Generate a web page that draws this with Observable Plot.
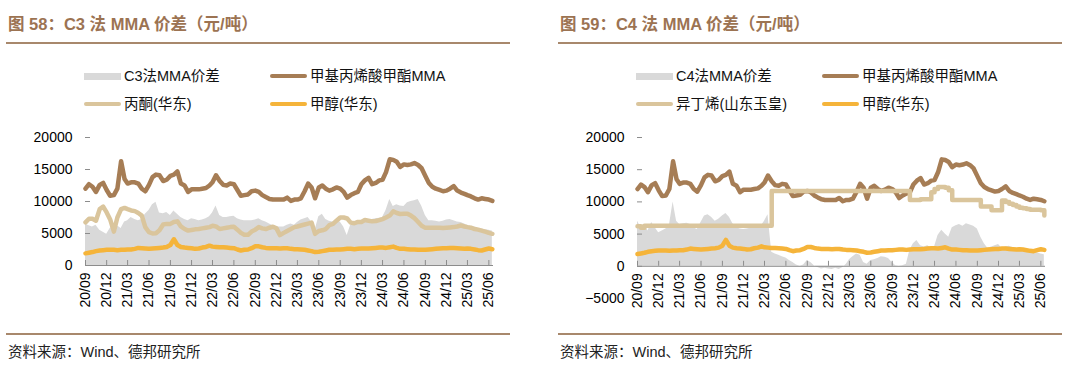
<!DOCTYPE html>
<html>
<head>
<meta charset="utf-8">
<script src="https://cdn.jsdelivr.net/npm/d3@7"></script>
<script src="https://cdn.jsdelivr.net/npm/@observablehq/plot@0.6"></script>
<style>
  body { margin: 0; background: #fff; }
  #page { position: relative; width: 1080px; height: 379px; overflow: hidden; background: #fff;
          font-family: "Liberation Sans", "Noto Sans CJK SC", sans-serif; }
  .title { position: absolute; top: 13px; font-size: 16.5px; font-weight: bold; color: #9C7352; white-space: nowrap; line-height: 22px; }
  .rule { position: absolute; height: 2px; background: #A8886C; }
  .foot { position: absolute; top: 342px; font-size: 14.5px; color: #222; white-space: nowrap; line-height: 20px; }
  .legtext { position: absolute; font-size: 14.5px; color: #111; white-space: nowrap; line-height: 18px; }
  .sw { position: absolute; }
  .plot { position: absolute; top: 125px; }
</style>
</head>
<body>
<div id="page"></div>
<script>
// ---------------- data ----------------
// semi-monthly observations from 2020-09-01 (index i -> month offset i/2)
const startLabel = "2020-09-01";
const tickLabels = ["20/09","20/12","21/03","21/06","21/09","21/12","22/03","22/06","22/09","22/12",
                    "23/03","23/06","23/09","23/12","24/03","24/06","24/09","24/12","25/03","25/06"];
const yTicksLeft = [0, 5000, 10000, 15000, 20000];
const yTicksRight = [-5000, 0, 5000, 10000, 15000, 20000];

const mma = [
  12000,12700,12300,11500,12600,12900,11800,10900,11000,12000,16300,13500,
  12800,13000,13000,12800,12000,11600,12600,13800,14200,14100,13200,13400,
  14000,14200,14700,12800,12500,11500,11900,11900,11900,12000,12100,12500,
  13000,14100,13200,12600,12500,12800,12700,11800,10900,11000,11100,11600,
  11700,11500,11000,10700,10400,10300,10300,10300,10300,10600,10100,10300,
  10300,10500,11600,12800,12200,10500,12200,12500,12000,11700,11900,12200,
  12000,11500,10600,11000,11300,11500,12700,13300,13700,12700,12900,13300,
  13400,14600,16600,16500,16200,15400,15800,15700,15800,16000,15700,15200,
  14000,12900,12300,12000,11800,11600,11700,12000,12400,11700,11400,11200,
  11000,10800,10500,10300,10500,10400,10300,10100
];
const methanol = [
  1900,2000,2100,2250,2350,2400,2450,2450,2450,2400,2450,2450,
  2500,2500,2600,2750,2700,2650,2600,2650,2700,2750,2800,2900,
  3200,4100,3200,2900,2800,2750,2700,2600,2650,2800,2900,3100,
  2950,2900,2850,2850,2800,2750,2700,2500,2350,2450,2500,2700,
  3000,3000,2850,2750,2700,2700,2700,2650,2700,2700,2600,2550,
  2550,2500,2450,2350,2250,2100,2150,2250,2350,2450,2450,2500,
  2500,2550,2600,2600,2550,2600,2650,2650,2650,2700,2750,2800,
  2800,2750,2850,2950,2750,2600,2600,2550,2500,2500,2450,2450,
  2450,2500,2550,2600,2650,2700,2700,2750,2750,2700,2650,2600,
  2650,2600,2500,2400,2350,2500,2650,2550
];
const acetone = [
  6750,7300,7300,7000,8800,9200,8300,7200,5300,7500,8800,9000,
  8800,8600,8500,8200,7800,6000,5200,5000,5050,5500,6400,6500,
  6500,6800,6900,6100,5700,5450,5550,5650,5700,5800,5900,6000,
  6200,6100,5700,5800,5900,6000,6050,5600,5100,4800,4800,5300,
  5600,6000,5800,5700,5900,6050,5800,4750,5100,5400,5700,6000,
  6100,6250,6400,6550,6700,4950,5400,5500,5700,6300,6500,7000,
  7500,7500,7350,6700,6600,6800,6800,7100,7000,6900,6950,7100,
  7250,7500,7800,8450,8200,8050,8100,8100,7800,7400,6800,6200,
  5880,5880,5900,5880,5900,5850,5900,5950,6000,6100,6250,6100,
  6000,5900,5700,5600,5450,5300,5100,4950
];
const spreadC3 = [
  6500,6200,6000,6300,5500,5200,4900,5800,6500,6200,5800,6800,
  7000,7500,7200,7000,7200,8000,8600,9500,9900,8200,8100,8300,
  7800,8500,8000,7500,7200,7000,7300,7200,7000,7100,7300,7600,
  8200,9300,7800,7500,7500,7600,7700,7300,7100,7000,7000,7000,
  7100,7300,7000,6800,6500,6200,6000,6000,6000,6300,6500,6300,
  6700,7100,7300,7500,6800,5500,7600,8000,7200,6900,6800,6700,
  6800,6000,4700,6300,6600,6800,6900,7000,7100,7200,7300,7400,
  7500,8600,10300,9200,9500,9300,9200,9800,10000,10100,10300,9300,
  7800,7000,7000,6900,6800,6900,7100,7200,7000,6800,6700,6500,
  6300,6100,6000,5800,5700,5600,5500,5400
];
const isobutylene = [
  6200,6000,6300,6300,6300,6300,6300,6300,6300,6300,6300,6300,
  6300,6300,6300,6300,6300,6300,6300,6300,6300,6300,6300,6300,
  6300,6300,6300,6300,6300,6300,6300,6300,6300,6300,6300,6300,
  6300,6300,11700,11700,11700,11700,11700,11700,11700,11700,11700,11700,
  11700,11700,11700,11700,11700,11700,11700,11700,11700,11700,11700,11700,
  11700,11700,11700,11700,11700,11700,11700,11700,11700,11700,11700,11700,
  11700,11700,11700,11700,11700,10300,10300,10300,10400,10400,10400,11500,
  12000,12300,12300,12200,11800,10300,10300,10300,10300,10300,10300,10300,
  10300,9300,9300,9300,8700,8700,8700,10200,10000,9700,9500,9300,
  9100,9000,8900,8800,8800,8800,8700,7900
];
const spreadC4 = [
  7000,6000,6500,5500,6800,6000,5200,5500,5800,6300,10000,7000,
  6500,6600,6700,6500,6000,5700,6800,7800,8000,7600,7000,7300,
  7800,8200,7600,6600,6000,5800,5700,5800,5900,5900,6100,6300,
  7000,8000,2200,1900,1700,1500,1300,900,600,200,0,200,
  900,600,100,-200,-400,-300,-400,-500,-300,-500,-200,300,
  1000,1500,1900,1700,600,300,900,1000,1200,1500,1400,1200,
  600,100,0,100,300,2500,3500,4000,3200,3000,3200,2800,
  3000,4800,5600,5000,4500,6000,6300,6500,6200,6600,6400,6200,
  5800,4500,3500,2800,3000,3200,3400,2800,3000,3100,2900,2800,
  2600,2500,2400,2200,2000,2100,1900,1800
];

const colors = { spread: "#D9D9D9", mma: "#A67D55", feed: "#DAC59C", methanol: "#F5B43A" };

// ---------------- derived helpers ----------------
const start = new Date(startLabel + "T00:00:00Z");
const dates = mma.map((_, i) => new Date(Date.UTC(start.getUTCFullYear(), start.getUTCMonth() + Math.floor(i / 2), i % 2 ? 16 : 1)));
const parseTick = d3.utcParse("%y/%m");
const xTicks = tickLabels.map(parseTick);
const xDomain = [start, new Date(Date.UTC(2025, 5, 21))];

const page = document.getElementById("page");
function add(tag, cls, style, text) {
  const el = document.createElement(tag);
  if (cls) el.className = cls;
  Object.assign(el.style, style);
  if (text != null) el.textContent = text;
  page.appendChild(el);
  return el;
}

function panel(cfg) {
  const off = cfg.offset;
  add("div", "title", { left: (off + 8) + "px" }, cfg.title);
  add("div", "rule", { left: (off + 6) + "px", width: "504px", top: "42px" });
  add("div", "rule", { left: (off + 6) + "px", width: "504px", top: "333px" });
  add("div", "foot", { left: (off + 8) + "px" }, "资料来源：Wind、德邦研究所");

  // legend
  const items = [
    { label: cfg.spreadLabel, color: colors.spread, kind: "area", col: 0, row: 0 },
    { label: "甲基丙烯酸甲酯MMA", color: colors.mma, kind: "line", col: 1, row: 0 },
    { label: cfg.feedLabel, color: colors.feed, kind: "line", col: 0, row: 1 },
    { label: "甲醇(华东)", color: colors.methanol, kind: "line", col: 1, row: 1 }
  ];
  items.forEach(it => {
    const sx = off + (it.col ? 270 : 84);
    const cy = it.row ? 104 : 76;
    const h = it.kind === "area" ? 7 : 4;
    add("div", "sw", { left: sx + "px", top: (cy - h / 2) + "px", width: "37px", height: h + "px",
      background: it.color, borderRadius: it.kind === "area" ? "0" : "2px" });
    add("div", "legtext", { left: (sx + 40) + "px", top: (cy - 9) + "px" }, it.label);
  });

  const H = 200, top = 125;
  const mt = 137 - top;
  const mb = H - (cfg.yBottom - top);
  const innerH = H - mt - mb;
  const shift = (0 - cfg.yMin) / (20000 - cfg.yMin) * innerH;
  const rows = dates.map((d, i) => ({ date: d, spread: cfg.spread[i], mma: mma[i], feed: cfg.feed[i], methanol: methanol[i] }));
  const chart = Plot.plot({
    width: cfg.width, height: H,
    marginLeft: 85, marginRight: cfg.width - 493, marginTop: mt, marginBottom: mb,
    style: { fontFamily: "'Liberation Sans', Arial, sans-serif", fontSize: "14px", color: "#000", background: "transparent", overflow: "visible" },
    x: { type: "utc", domain: xDomain },
    y: { domain: [cfg.yMin, 20000] },
    marks: [
      Plot.areaY(rows, { x: "date", y: "spread", fill: colors.spread }),
      Plot.ruleY([0], { stroke: "#8c8c8c" }),
      Plot.lineY(rows, { x: "date", y: "mma", stroke: colors.mma, strokeWidth: 4.5 }),
      Plot.lineY(rows, { x: "date", y: "feed", stroke: colors.feed, strokeWidth: 4.5, curve: cfg.curve }),
      Plot.lineY(rows, { x: "date", y: "methanol", stroke: colors.methanol, strokeWidth: 4.5 }),
      Plot.axisY({ ticks: cfg.yTicks, tickFormat: "d", tickSize: -5, tickPadding: 18, line: true,
        stroke: "#8c8c8c", fill: "#000", label: null }),
      Plot.axisX({ ticks: xTicks, tickFormat: d3.utcFormat("%y/%m"), tickRotate: -90, tickSize: -5, tickPadding: 12,
        dy: -shift, stroke: "#8c8c8c", fill: "#000", label: null })
    ]
  });
  chart.classList.add("plot");
  chart.style.left = off + "px";
  chart.style.position = "absolute";
  chart.style.top = top + "px";
  page.appendChild(chart);
}

panel({ offset: 0, width: 540, title: "图 58：C3 法 MMA 价差（元/吨）", spreadLabel: "C3法MMA价差", feedLabel: "丙酮(华东)",
  spread: spreadC3, feed: acetone, yMin: 0, yBottom: 265, yTicks: yTicksLeft, curve: "linear" });
panel({ offset: 552, width: 528, title: "图 59：C4 法 MMA 价差（元/吨）", spreadLabel: "C4法MMA价差", feedLabel: "异丁烯(山东玉皇)",
  spread: spreadC4, feed: isobutylene, yMin: -5000, yBottom: 298, yTicks: yTicksRight, curve: "step-after" });
</script>
</body>
</html>
